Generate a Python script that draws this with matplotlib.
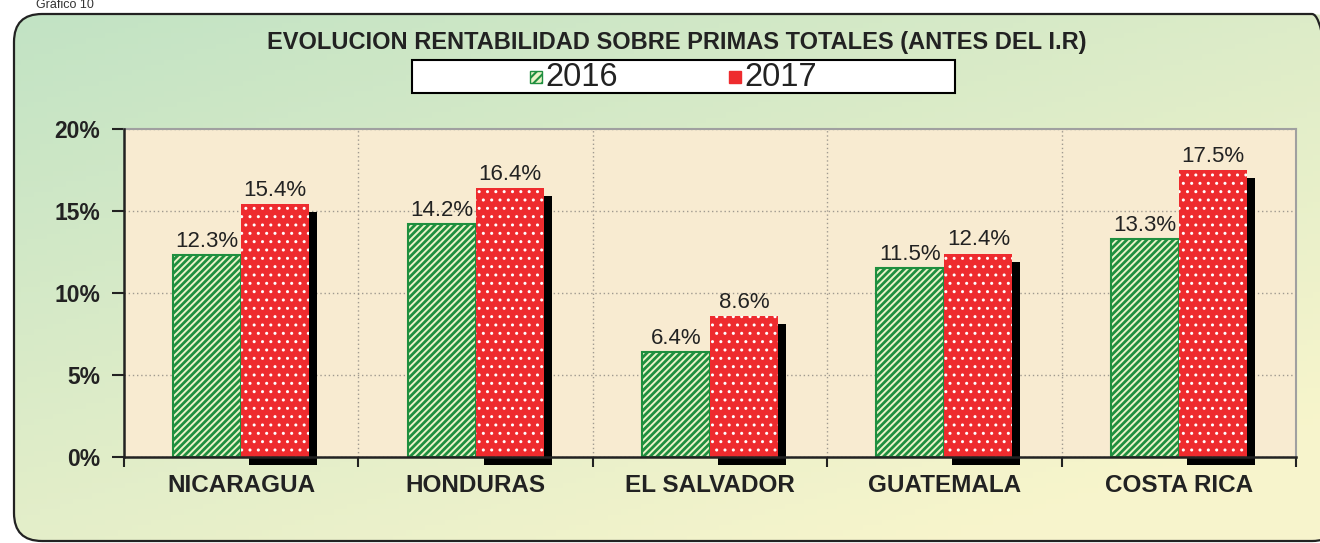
import numpy as np
import matplotlib
matplotlib.use('Agg')
import matplotlib.pyplot as plt
from matplotlib.patches import FancyBboxPatch, Rectangle

plt.rcParams['font.family'] = ['Liberation Sans', 'DejaVu Sans']

paises = ['NICARAGUA', 'HONDURAS', 'EL SALVADOR', 'GUATEMALA', 'COSTA RICA']
v2016 = [12.3, 14.2, 6.4, 11.5, 13.3]
v2017 = [15.4, 16.4, 8.6, 12.4, 17.5]
series = ['2016', '2017']
yticks = [0, 5, 10, 15, 20]

W, H = 1320, 543
fig = plt.figure(figsize=(W / 100, H / 100), dpi=100)

# background with gradient, rounded frame
bg = fig.add_axes([0, 0, 1, 1])
bg.set_xlim(0, W)
bg.set_ylim(0, H)
bg.axis('off')
xx, yy = np.meshgrid(np.linspace(0, 1, 200), np.linspace(0, 1, 100))
t = np.clip((xx * 0.7 + yy * 0.9) / 1.4, 0, 1)
c0 = np.array([0.76, 0.89, 0.77])
c1 = np.array([0.97, 0.96, 0.80])
img = c0[None, None, :] * (1 - t[..., None]) + c1[None, None, :] * t[..., None]
frame = FancyBboxPatch((14, 2), W - 14 + 20, H - 14 - 2, boxstyle='round,pad=0,rounding_size=28',
                       fc='none', ec='#222222', lw=1.6)
bg.add_patch(frame)
im = bg.imshow(img, extent=[14, W, 2, H - 12], origin='upper', aspect='auto', zorder=0)
im.set_clip_path(frame)
bg.text(36, H + 1, 'Gráfico 10', fontsize=9, color='#333333', va='top', ha='left')

bg.text(677, H - 43, 'EVOLUCION RENTABILIDAD SOBRE PRIMAS TOTALES (ANTES DEL I.R)',
        fontsize=17, fontweight='bold', color='#222222', ha='center', va='center')

ax = fig.add_axes([124 / W, 1 - 457 / H, (1296 - 124) / W, (457 - 129) / H])
ax.set_facecolor('#F8EBD1')
x = np.arange(len(paises))
w = 0.29

# shadow for 2017 bars
dx = 8 / 234
dy = 8 / 328 * 20
ax.bar(x + w / 2 + dx, v2017, w, bottom=-dy, color='black', zorder=2, clip_on=False)

plt.rcParams['hatch.linewidth'] = 2.0
b16 = ax.bar(x - w / 2, v2016, w, color='#EAF3C8', edgecolor='#1F8F3F', hatch='/////',
             linewidth=1.5, zorder=3, label='2016')
plt.rcParams['hatch.linewidth'] = 1.0
b17 = ax.bar(x + w / 2, v2017, w, color='#EE2B2E', edgecolor='white', hatch='..',
             linewidth=0, zorder=3, label='2017')

for i in range(len(paises)):
    ax.text(x[i] - w / 2, v2016[i] + 0.2, f'{v2016[i]:.1f}%', ha='center', va='bottom',
            fontsize=16, color='#222222', zorder=5)
    ax.text(x[i] + w / 2, v2017[i] + 0.2, f'{v2017[i]:.1f}%', ha='center', va='bottom',
            fontsize=16, color='#222222', zorder=5)

ax.set_xlim(-0.5, len(paises) - 0.5)
ax.set_ylim(0, 20)
ax.set_yticks(yticks)
ax.set_yticklabels([f'{v}%' for v in yticks], fontsize=16.5, fontweight='bold', color='#222222')
ax.set_xticks(x)
ax.set_xticklabels(paises, fontsize=17.5, fontweight='bold', color='#222222')
ax.tick_params(axis='x', length=0, pad=12)
ax.set_xticks(np.arange(-0.5, len(paises)), minor=True)
ax.tick_params(axis='x', which='minor', length=7, width=1.5, color='#222222')
ax.tick_params(axis='y', length=9, width=1.5, color='#222222', pad=8)

ax.grid(axis='y', linestyle=(0, (1, 2)), color='#A09A90', linewidth=1, zorder=1)
for b in np.arange(0.5, len(paises) - 0.5):
    ax.axvline(b, linestyle=(0, (1, 2)), color='#A09A90', linewidth=1, zorder=1)
ax.set_axisbelow(True)
for s in ['left', 'bottom']:
    ax.spines[s].set_color('#222222')
    ax.spines[s].set_linewidth(1.8)
    ax.spines[s].set_zorder(4)
for s in ['top', 'right']:
    ax.spines[s].set_color('#A0A0A0')
    ax.spines[s].set_linewidth(1.5)

# legend box drawn by hand
bg.add_patch(Rectangle((412, H - 93), 543, 33, fc='white', ec='black', lw=1.5, zorder=5))
plt.rcParams['hatch.linewidth'] = 1.5
bg.add_patch(Rectangle((530, H - 83), 12, 12, fc='#EAF3C8', ec='#1F8F3F', hatch='////', lw=1, zorder=6))
bg.add_patch(Rectangle((729, H - 83), 12, 12, fc='#EE2B2E', ec='#EE2B2E', lw=1, zorder=6))
bg.text(545, H - 77, series[0], fontsize=23.5, color='#222222', va='center', ha='left', zorder=7)
bg.text(744, H - 77, series[1], fontsize=23.5, color='#222222', va='center', ha='left', zorder=7)

fig.savefig('out.png', dpi=100)
